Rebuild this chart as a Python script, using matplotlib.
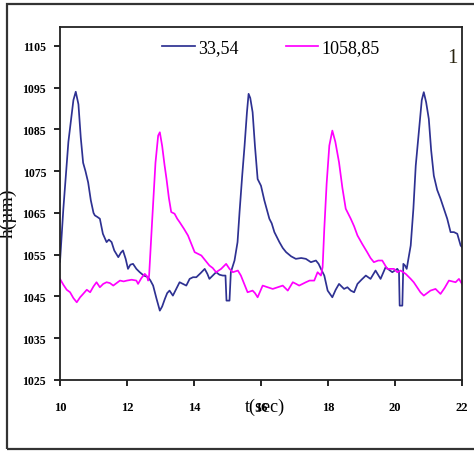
import matplotlib.pyplot as plt
from matplotlib.patches import Rectangle

# series "33,54"
t_a = [10.00, 10.10, 10.25, 10.40, 10.47, 10.55, 10.62, 10.69, 10.76, 10.84, 10.92, 11.00,
       11.04, 11.12, 11.19, 11.28, 11.39, 11.46, 11.54, 11.62, 11.74, 11.82, 11.88, 11.96,
       12.03, 12.10, 12.18, 12.28, 12.38, 12.50, 12.63, 12.70, 12.78, 12.88, 12.98, 13.05,
       13.13, 13.20, 13.27, 13.37, 13.47, 13.57, 13.67, 13.77, 13.87, 13.97, 14.07, 14.20,
       14.32, 14.40, 14.46, 14.56, 14.66, 14.76, 14.86, 14.94, 14.97, 15.06, 15.10, 15.21,
       15.30, 15.36, 15.44, 15.51, 15.58, 15.63, 15.68, 15.75, 15.82, 15.90, 16.00, 16.10,
       16.25, 16.32, 16.40, 16.55, 16.65, 16.75, 16.90, 17.04, 17.20, 17.34, 17.49, 17.64,
       17.72, 17.79, 17.89, 17.99, 18.13, 18.23, 18.33, 18.48, 18.58, 18.68, 18.78, 18.88,
       19.00, 19.13, 19.27, 19.42, 19.57, 19.72, 19.82, 19.92, 20.07, 20.12, 20.14, 20.22,
       20.25, 20.30, 20.35, 20.47, 20.55, 20.62, 20.72, 20.80, 20.86, 20.93, 21.01, 21.08,
       21.16, 21.26, 21.36, 21.46, 21.56, 21.66, 21.76, 21.86, 21.96, 22.00]
h_a = [1053.3, 1066, 1082, 1092, 1094, 1091, 1083, 1077, 1075, 1072.3, 1068, 1065,
       1064.4, 1064, 1063.6, 1060, 1058, 1058.6, 1058, 1056, 1054.4, 1055.5, 1056, 1054,
       1051.6, 1052.6, 1052.8, 1051.6, 1050.8, 1050, 1049.6, 1048.8, 1047.6, 1044.5, 1041.6, 1042.6,
       1044.4, 1045.8, 1046.4, 1045.2, 1046.8, 1048.4, 1048, 1047.6, 1049.2, 1049.6, 1049.6, 1050.6,
       1051.6, 1050.4, 1049.2, 1050, 1050.8, 1050.2, 1050, 1050, 1044, 1044, 1050.8, 1053.6,
       1058, 1065.2, 1074, 1081.1, 1089, 1093.5, 1092.5, 1089.1, 1081, 1073.1, 1071.5, 1068,
       1063.6, 1062.5, 1060.4, 1058, 1056.6, 1055.6, 1054.6, 1054, 1054.2, 1054, 1053.2, 1053.6,
       1052.8, 1051.6, 1050, 1046.4, 1044.8, 1046.6, 1048, 1046.8, 1047.2, 1046.4, 1046, 1048,
       1049, 1050, 1049.2, 1051.2, 1049.2, 1052, 1051.4, 1050.8, 1051.6, 1051, 1042.8, 1042.8,
       1052.8, 1052.4, 1051.6, 1057.2, 1066, 1076.3, 1085, 1092, 1093.9, 1091.5, 1087.5, 1080,
       1073.9, 1070.5, 1068.4, 1066, 1063.6, 1060.4, 1060.4, 1060, 1057.2, 1056.8]

# series "1058,85"
t_b = [10.00, 10.10, 10.20, 10.30, 10.40, 10.50, 10.60, 10.69, 10.80, 10.90, 11.00, 11.09,
       11.19, 11.29, 11.39, 11.49, 11.59, 11.69, 11.79, 11.90, 12.00, 12.14, 12.28, 12.33,
       12.43, 12.53, 12.60, 12.63, 12.66, 12.75, 12.85, 12.93, 12.98, 13.05, 13.12, 13.18,
       13.25, 13.32, 13.42, 13.50, 13.57, 13.70, 13.82, 13.90, 14.02, 14.12, 14.22, 14.34,
       14.46, 14.56, 14.66, 14.81, 14.96, 15.06, 15.16, 15.31, 15.40, 15.46, 15.60, 15.75,
       15.82, 15.90, 16.05, 16.20, 16.35, 16.50, 16.65, 16.80, 16.95, 17.05, 17.14, 17.34,
       17.45, 17.59, 17.69, 17.79, 17.84, 17.89, 17.96, 18.04, 18.13, 18.22, 18.33, 18.43,
       18.53, 18.68, 18.78, 18.88, 19.02, 19.17, 19.27, 19.37, 19.50, 19.62, 19.77, 19.97,
       20.07, 20.17, 20.32, 20.47, 20.56, 20.66, 20.76, 20.86, 20.96, 21.06, 21.21, 21.36,
       21.48, 21.61, 21.71, 21.81, 21.91, 22.00]
h_b = [1049.2, 1047.8, 1046.6, 1046, 1044.6, 1043.6, 1044.8, 1045.6, 1046.6, 1046, 1047.4, 1048.4,
       1047.2, 1048, 1048.4, 1048.2, 1047.6, 1048.2, 1048.8, 1048.6, 1048.8, 1049, 1048.8, 1048,
       1049.4, 1050.4, 1049.8, 1048.8, 1050, 1063, 1077, 1083.5, 1084.3, 1081, 1076.5, 1073.1,
       1068.6, 1065.2, 1064.8, 1063.6, 1062.8, 1061.2, 1059.6, 1058, 1055.6, 1055.2, 1054.8, 1053.6,
       1052.4, 1051.8, 1050.8, 1051.6, 1052.8, 1051.6, 1050.8, 1051.2, 1050, 1048.8, 1046, 1046.4,
       1045.8, 1044.8, 1047.6, 1047.2, 1046.8, 1047.2, 1047.6, 1046.4, 1048.4, 1048, 1047.6, 1048.4,
       1048.8, 1048.8, 1050.8, 1050, 1052, 1061.2, 1072, 1081.1, 1084.7, 1082, 1077.1, 1071,
       1066, 1063.6, 1061.8, 1059.6, 1057.6, 1055.6, 1054.2, 1053.2, 1053.6, 1053.6, 1051.6, 1051.6,
       1050.8, 1051.2, 1050.4, 1049.2, 1048.4, 1047.2, 1046, 1045.2, 1045.8, 1046.4, 1046.8, 1045.6,
       1047, 1048.8, 1048.6, 1048.4, 1049.2, 1048]

x_ticks = [10, 12, 14, 16, 18, 20, 22]
y_ticks = [1025, 1035, 1045, 1055, 1065, 1075, 1085, 1095, 1105]

serif = 'Liberation Serif'

fig = plt.figure(figsize=(4.74, 4.56), dpi=100)
ax = fig.add_axes([0.1266, 0.1645, 0.848, 0.7741])

ax.plot(t_a, h_a, color='#2e3192', lw=1.25, label='33,54')
ax.plot(t_b, h_b, color='#ff00ff', lw=1.25, label='1058,85')

ax.set_xlim(10, 22)
ax.set_ylim(1025, 1109.5)
ax.set_xticks(x_ticks)
ax.set_yticks(y_ticks)
ax.set_xticklabels([str(v) for v in x_ticks], family=serif, fontsize=9, fontweight='bold')
ax.set_yticklabels([str(v) for v in y_ticks], family=serif, fontsize=8.5, fontweight='bold')
ax.tick_params(axis='x', direction='out', length=4, width=1.2, pad=11)
ax.tick_params(axis='y', direction='out', length=4, width=1.2, pad=6)
for sp in ax.spines.values():
    sp.set_linewidth(1.3)
    sp.set_color('#222222')

ax.set_xlabel('t(sec)', family=serif, fontsize=13)
ax.xaxis.set_label_coords(0.51, -0.05)
ax.set_ylabel('h(µm)', family=serif, fontsize=14)
ax.yaxis.set_label_coords(-0.107, 0.476)

ax.legend(loc='upper left', bbox_to_anchor=(0.254, 0.966), ncol=2, frameon=False,
          handlelength=1.8, handletextpad=0.2, columnspacing=2.6, borderaxespad=0,
          borderpad=0, prop={'family': serif, 'size': 13})

ax.text(0.975, 0.915, '1', transform=ax.transAxes, ha='center', va='center',
        family=serif, fontsize=15, color='#2a2410')

# outer frame around the whole chart
fig.patches.append(Rectangle((0.0148, 0.013), 1.0, 0.976, transform=fig.transFigure,
                             fill=False, edgecolor='#333333', lw=1.6))

fig.savefig('out.png', dpi=100)
